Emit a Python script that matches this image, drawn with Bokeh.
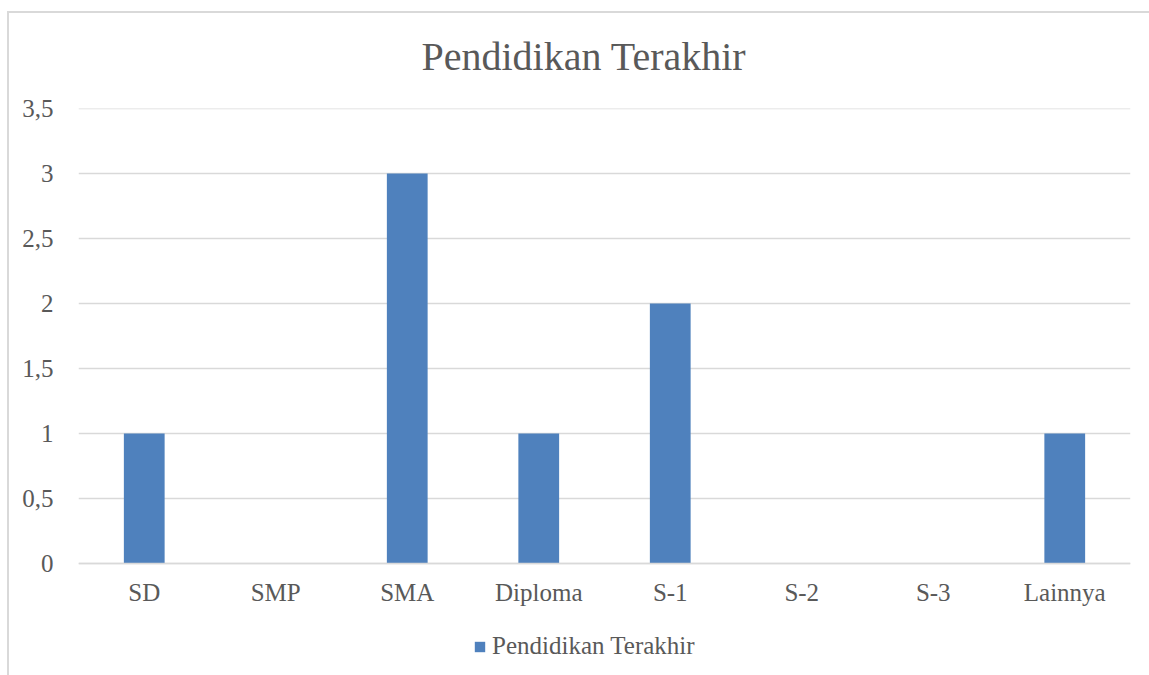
from bokeh.plotting import figure
from bokeh.models import (ColumnDataSource, FactorRange, Range1d, FixedTicker,
                          CustomJSTickFormatter, Legend, LegendItem, InlineStyleSheet)
from bokeh.embed import file_html
from bokeh.resources import INLINE

categories = ["SD", "SMP", "SMA", "Diploma", "S-1", "S-2", "S-3", "Lainnya"]
values = [1, 0, 3, 1, 2, 0, 0, 1]
y_ticks = [0, 0.5, 1, 1.5, 2, 2.5, 3, 3.5]
series_name = "Pendidikan Terakhir"
title_text = "Pendidikan Terakhir"

FONT = "Liberation Serif"
TXT = "#595959"
GRID = "#d9d9d9"
BAR = "#4f81bd"

# frame spans from the 3.5 gridline (y=108) to the canvas bottom (y=675);
# 0 sits at y=563 -> 130 px per unit, so the range starts at -112/130
Y_MIN = -112 / 130.0

src = ColumnDataSource(dict(cat=categories, val=values))

p = figure(width=1149, height=675, output_backend="svg", toolbar_location=None,
           x_range=FactorRange(*categories, range_padding=0),
           y_range=Range1d(Y_MIN, 3.5005),
           min_border_left=78, min_border_right=19,
           min_border_top=108, min_border_bottom=0)

r = p.vbar(x="cat", top="val", bottom=0, width=0.31, source=src,
           color=BAR, line_color=None)

p.title.text = title_text
p.title.align = "left"
p.title.offset = 343
p.title.text_font = FONT
p.title.text_font_size = "40px"
p.title.text_font_style = "normal"
p.title.text_color = TXT
p.title.standoff = 60

p.border_fill_color = None
p.outline_line_color = None
p.xgrid.grid_line_color = None
p.ygrid.grid_line_color = GRID
p.ygrid.grid_line_width = 1.5

p.yaxis.ticker = FixedTicker(ticks=y_ticks)
p.yaxis.formatter = CustomJSTickFormatter(code="return tick.toString().replace('.', ',');")
p.yaxis.axis_line_color = None
p.yaxis.major_tick_line_color = None
p.yaxis.minor_tick_line_color = None
p.yaxis.major_label_text_font = FONT
p.yaxis.major_label_text_font_size = "25px"
p.yaxis.major_label_text_color = TXT
p.yaxis.major_label_standoff = 19

p.xaxis.fixed_location = 0
p.xaxis.axis_line_color = GRID
p.xaxis.axis_line_width = 1.5
p.xaxis.major_tick_line_color = None
p.xaxis.minor_tick_line_color = None
p.xaxis.major_label_text_font = FONT
p.xaxis.major_label_text_font_size = "25px"
p.xaxis.major_label_text_color = TXT
p.xaxis.major_label_standoff = 9

legend = Legend(items=[LegendItem(label=series_name, renderers=[r])],
                location=(395, 15), orientation="horizontal",
                border_line_color=None, background_fill_alpha=0,
                padding=0, margin=0, glyph_width=13, glyph_height=13,
                label_standoff=6, label_text_font=FONT,
                label_text_font_size="25px", label_text_color=TXT)
p.add_layout(legend, "center")

p.stylesheets = [InlineStyleSheet(css=(
    ":host { background:"
    " linear-gradient(#d9d9d9,#d9d9d9) 7px 11px / 2px 100% no-repeat,"
    " linear-gradient(#d9d9d9,#d9d9d9) 7px 11px / 100% 2px no-repeat,"
    " #ffffff; }"))]

open("out.html", "w").write(file_html(p, INLINE))
